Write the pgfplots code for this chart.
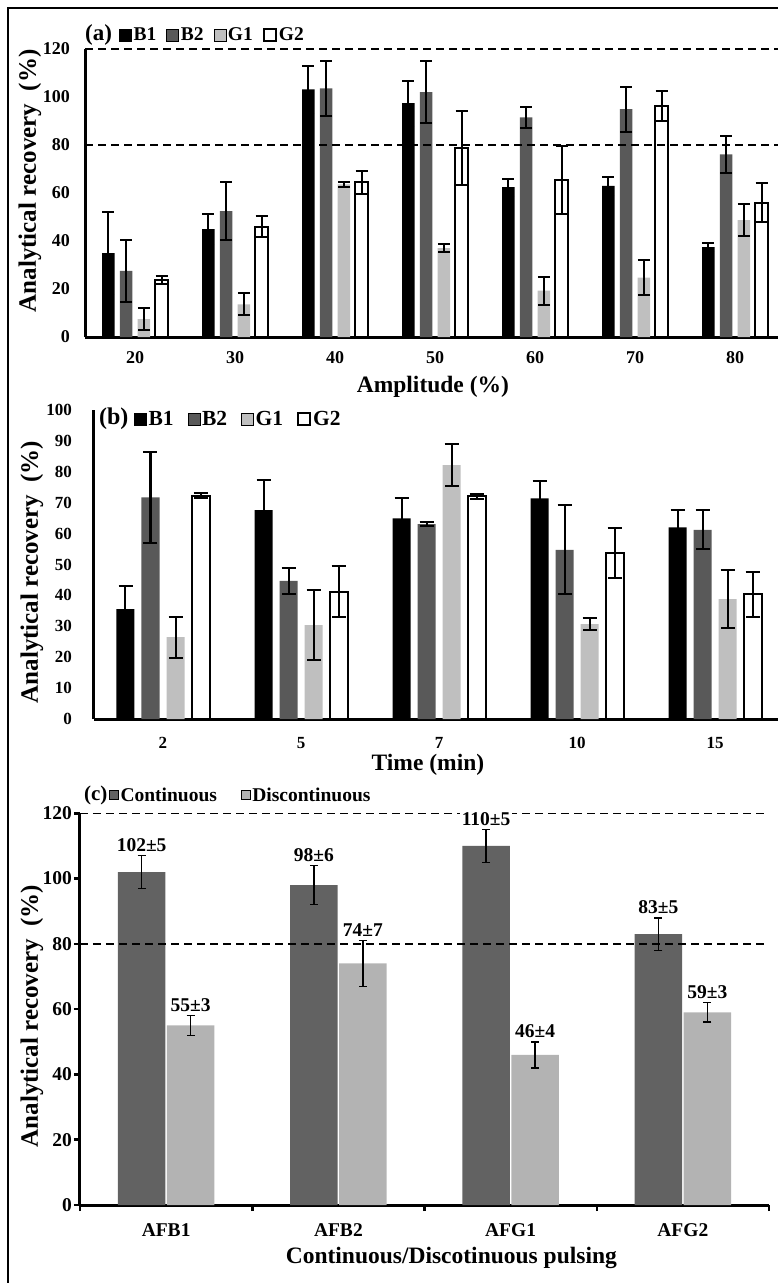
\documentclass[border=0pt]{standalone}
\usepackage{fontspec}
\setmainfont{Liberation Serif}
\usepackage{pgfplots}
\usepackage{pgfplotstable}
\pgfplotsset{compat=1.18}

\definecolor{cBtwo}{HTML}{595959}
\definecolor{cGone}{HTML}{BFBFBF}
\definecolor{cCont}{HTML}{626262}
\definecolor{cDisc}{HTML}{B3B3B3}

\newcommand{\fsz}[1]{\fontsize{#1}{#1}\selectfont\bfseries}

\pgfplotstableread{
x  B1    eB1  B2    eB2  G1   eG1  G2   eG2
0  35.0  17.0 27.6  13.0 7.5  4.5  23.7 1.7
1  44.9  6.3  52.5  12.0 13.6 4.6  46.0 4.4
2  103.2 9.8  103.6 11.4 63.6 1.0  64.4 4.9
3  97.4  9.4  102.0 13.0 37.0 1.6  78.9 15.4
4  62.4  3.5  91.5  4.5  19.3 5.8  65.4 14.3
5  63.0  3.8  94.9  9.4  24.7 7.3  96.2 6.2
6  37.4  1.6  76.1  7.6  48.7 6.7  56.0 8.0
}\tabA

\pgfplotstableread{
x  B1    eB1  B2    eB2  G1   eG1  G2   eG2
0  35.6  7.5  71.7  14.7 26.5 6.6  72.3 0.9
1  67.6  9.7  44.7  4.3  30.4 11.4 41.2 8.2
2  64.9  6.7  63.1  0.5  82.2 6.9  72.1 0.8
3  71.4  5.6  54.7  14.4 30.7 2.0  53.6 8.1
4  62.0  5.5  61.2  6.3  38.8 9.5  40.4 7.3
}\tabB

\pgfplotstableread{
x  C    eC  D   eD  lC     lD
0  102  5   55  3   102±5  55±3
1  98   6   74  7   98±6   74±7
2  110  5   46  4   110±5  46±4
3  83   5   59  3   83±5   59±3
}\tabC

\pgfplotsset{
  panel/.style={
    scale only axis,
    clip=false,
    axis x line=bottom, axis y line=left,
    axis line style={line width=3pt, -, black},
    ybar,
    /pgf/number format/assume math mode=true,
    xlabel style={anchor=center},
    ylabel style={anchor=center},
    legend columns=-1,
    legend cell align=left,
    legend image code/.code={\draw[##1] (0pt,-6pt) rectangle (12pt,6pt);},
  },
  smallsq/.style={
    legend image code/.code={\draw[##1] (0pt,-4.5pt) rectangle (9pt,4.5pt);},
  },
  errs/.style={
    error bars/y dir=both, error bars/y explicit,
    error bars/error bar style={draw=black, line width=#1, solid},
  },
}

\begin{document}
\begin{tikzpicture}[x=1pt,y=1pt]
\useasboundingbox (0,0) rectangle (777,-1283);
\draw[line width=2pt] (7.5,-1300) -- (7.5,-7.5) -- (800,-7.5);

% ---------------- (a)
\begin{axis}[panel,
  at={(85pt,-337pt)}, anchor=south west,
  width=700pt, height=288pt,
  xmin=-0.5, xmax=6.5, ymin=0, ymax=120,
  ytick={0,20,...,120},
  xtick={0,...,6}, xticklabels={20,30,40,50,60,70,80},
  major tick length=0pt,
  bar width=12.5pt,
  tick label style={font=\fsz{18}},
  yticklabel style={anchor=east, inner sep=0pt, xshift=-15pt},
  xticklabel style={anchor=center, inner sep=0pt, yshift=-21pt},
  xlabel={Amplitude (\%)},
  xlabel style={at={(axis description cs:0.497,-0.1736)}, font=\fsz{23.5}},
  ylabel={Analytical recovery~~(\%)},
  ylabel style={at={(axis description cs:-0.0786,0.5417)}, font=\fsz{25}},
  legend style={draw=none, fill=none, at={(axis description cs:0.0486,1.0486)}, anchor=west,
    font=\fsz{19.5}, inner sep=0pt, /tikz/every even column/.append style={column sep=8pt}},
]
\addplot[fill=black, draw=none, bar shift=-26.7pt, errs=2pt,
  error bars/error mark options={rotate=90, mark size=6pt, draw=black, line width=2pt}]
  table[x=x, y=B1, y error=eB1] {\tabA};
\addplot[fill=cBtwo, draw=none, bar shift=-8.9pt, errs=2pt,
  error bars/error mark options={rotate=90, mark size=6pt, draw=black, line width=2pt}]
  table[x=x, y=B2, y error=eB2] {\tabA};
\addplot[fill=cGone, draw=none, bar shift=8.9pt, errs=2pt,
  error bars/error mark options={rotate=90, mark size=6pt, draw=black, line width=2pt}]
  table[x=x, y=G1, y error=eG1] {\tabA};
\addplot[fill=white, draw=black, line width=2pt, bar shift=26.7pt, errs=2pt,
  error bars/error mark options={rotate=90, mark size=6pt, draw=black, line width=2pt}]
  table[x=x, y=G2, y error=eG2] {\tabA};
\legend{B1,B2,G1,G2}
\draw[line width=1.4pt, dash pattern=on 8pt off 5pt] (axis cs:-0.5,80) -- (axis cs:6.5,80);
\draw[line width=1.4pt, dash pattern=on 8pt off 5pt] (axis cs:-0.5,120) -- (axis cs:6.5,120);
\node[anchor=west, inner sep=0pt, font=\fsz{23}] at (axis description cs:0,1.0486) {(a)};
\end{axis}

% ---------------- (b)
\begin{axis}[panel,
  at={(94pt,-719pt)}, anchor=south west,
  width=690pt, height=309pt,
  xmin=-0.5, xmax=4.5, ymin=0, ymax=100,
  ytick={0,10,...,100},
  xtick={0,...,4}, xticklabels={2,5,7,10,15},
  major tick length=0pt,
  bar width=18pt,
  tick label style={font=\fsz{17}},
  yticklabel style={anchor=east, inner sep=0pt, xshift=-22pt},
  xticklabel style={anchor=center, inner sep=0pt, yshift=-24pt},
  xlabel={Time (min)},
  xlabel style={at={(axis description cs:0.484,-0.149)}, font=\fsz{23.5}},
  ylabel={Analytical recovery~~(\%)},
  ylabel style={at={(axis description cs:-0.0899,0.4757)}, font=\fsz{25}},
  legend style={draw=none, fill=none, at={(axis description cs:0.058,0.971)}, anchor=west,
    font=\fsz{21.5}, inner sep=0pt, /tikz/every even column/.append style={column sep=12pt}},
]
\addplot[fill=black, draw=none, bar shift=-37.5pt, errs=2pt,
  error bars/error mark options={rotate=90, mark size=7pt, draw=black, line width=2pt}]
  table[x=x, y=B1, y error=eB1] {\tabB};
\addplot[fill=cBtwo, draw=none, bar shift=-12.5pt, errs=2pt,
  error bars/error mark options={rotate=90, mark size=7pt, draw=black, line width=2pt}]
  table[x=x, y=B2, y error=eB2] {\tabB};
\addplot[fill=cGone, draw=none, bar shift=12.5pt, errs=2pt,
  error bars/error mark options={rotate=90, mark size=7pt, draw=black, line width=2pt}]
  table[x=x, y=G1, y error=eG1] {\tabB};
\addplot[fill=white, draw=black, line width=2pt, bar shift=37.5pt, errs=2pt,
  error bars/error mark options={rotate=90, mark size=7pt, draw=black, line width=2pt}]
  table[x=x, y=G2, y error=eG2] {\tabB};
\legend{B1,B2,G1,G2}
\node[anchor=west, inner sep=0pt, font=\fsz{24}] at (axis description cs:0.007,0.971) {(b)};
\end{axis}

% ---------------- (c)
\begin{axis}[panel, smallsq,
  at={(80pt,-1205pt)}, anchor=south west,
  width=689pt, height=391.7pt,
  xmin=-0.5, xmax=3.5, ymin=0, ymax=120,
  ytick={0,20,...,120},
  xtick={0,...,3}, xticklabels={AFB1,AFB2,AFG1,AFG2},
  minor xtick={-0.5,0.5,1.5,2.5,3.5},
  tick align=outside,
  major tick length=6pt, minor tick length=6pt,
  major x tick style={draw=none},
  minor x tick style={line width=2.5pt, black},
  ytick style={line width=2.5pt, black},
  bar width=47.5pt,
  tick label style={font=\fsz{19.5}},
  yticklabel style={anchor=east, inner sep=0pt, xshift=-2pt},
  xticklabel style={anchor=center, inner sep=0pt, yshift=-19pt},
  xlabel={Continuous/Discotinuous pulsing},
  xlabel style={at={(axis description cs:0.539,-0.135)}, font=\fsz{23.5}},
  ylabel={Analytical recovery~~(\%)},
  ylabel style={at={(axis description cs:-0.0697,0.4825)}, font=\fsz{25}},
  legend style={draw=none, fill=none, at={(axis description cs:0.042,1.0467)}, anchor=west,
    font=\fsz{19.5}, inner sep=0pt, /tikz/every even column/.append style={column sep=22pt}},
]
\addplot[fill=cCont, draw=none, bar shift=-24.5pt, errs=1.5pt,
  error bars/error mark options={rotate=90, mark size=4pt, draw=black, line width=1.5pt}]
  table[x=x, y=C, y error=eC] {\tabC};
\addplot[fill=cDisc, draw=none, bar shift=24.5pt, errs=1.5pt,
  error bars/error mark options={rotate=90, mark size=4pt, draw=black, line width=1.5pt}]
  table[x=x, y=D, y error=eD] {\tabC};
\legend{Continuous,Discontinuous}
\draw[line width=1.4pt, dash pattern=on 8pt off 5pt] (axis cs:-0.5,80) -- (axis cs:3.5,80);
\draw[line width=1.4pt, dash pattern=on 8pt off 5pt] (axis cs:-0.5,120) -- (axis cs:3.5,120);
\addplot[draw=none, fill=none, bar shift=-24.5pt, forget plot,
  nodes near coords, point meta=explicit symbolic,
  every node near coord/.append style={font=\fsz{19.5}, text=black, fill=white, inner sep=1.5pt, yshift=2pt}]
  table[x=x, y expr=\thisrow{C}+\thisrow{eC}, meta=lC] {\tabC};
\addplot[draw=none, fill=none, bar shift=24.5pt, forget plot,
  nodes near coords, point meta=explicit symbolic,
  every node near coord/.append style={font=\fsz{19.5}, text=black, fill=white, inner sep=1.5pt, yshift=2pt}]
  table[x=x, y expr=\thisrow{D}+\thisrow{eD}, meta=lD] {\tabC};
\node[anchor=east, inner sep=0pt, font=\fsz{21}] at (axis description cs:0.04,1.0467) {(c)};
\end{axis}
\end{tikzpicture}
\end{document}
